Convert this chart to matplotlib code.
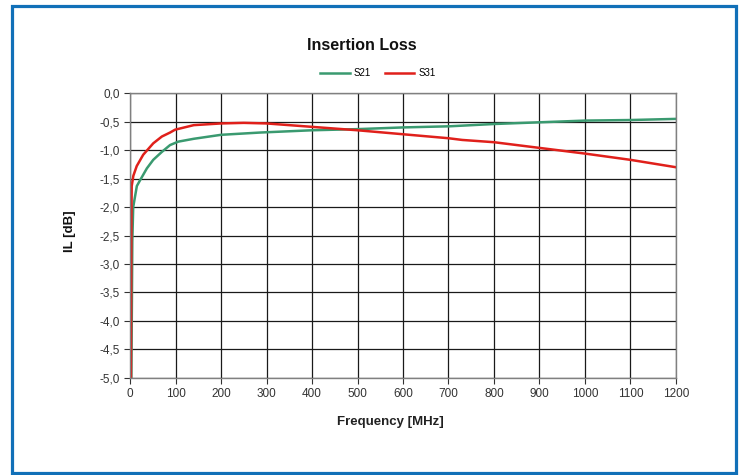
import matplotlib
matplotlib.use("Agg")
import matplotlib.pyplot as plt
from matplotlib.patches import Rectangle
from matplotlib.ticker import FuncFormatter

plt.rcParams['font.family'] = ['Liberation Sans', 'DejaVu Sans']

freq_s21 = [3, 5, 7, 15, 22, 37, 51, 70, 88, 106, 140, 200, 286, 400, 500, 600, 703, 800, 900, 1000, 1100, 1200]
il_s21 = [-5.0, -2.6, -2.0, -1.63, -1.53, -1.32, -1.17, -1.03, -0.91, -0.85, -0.80, -0.73, -0.69,
          -0.65, -0.63, -0.60, -0.58, -0.54, -0.51, -0.48, -0.47, -0.45]

freq_s31 = [2, 3, 3.7, 7.3, 14.7, 29, 40, 51, 70, 88, 99, 140, 200, 250, 300, 400, 500, 600, 700, 730,
            800, 900, 1000, 1100, 1200]
il_s31 = [-5.0, -2.2, -1.63, -1.45, -1.28, -1.08, -0.98, -0.88, -0.76, -0.69, -0.64, -0.56, -0.53,
          -0.52, -0.53, -0.59, -0.65, -0.72, -0.79, -0.82, -0.86, -0.96, -1.06, -1.17, -1.30]

x_ticks = list(range(0, 1201, 100))
y_ticks = [0.0, -0.5, -1.0, -1.5, -2.0, -2.5, -3.0, -3.5, -4.0, -4.5, -5.0]

fig = plt.figure(figsize=(7.43, 4.75), dpi=100)
W, H = 743, 475

# blauer Rahmen
fig.patches.append(Rectangle((12 / W, 1 - 473 / H), 724 / W, 467 / H, transform=fig.transFigure,
                             fill=False, edgecolor="#1170b8", linewidth=2.3))

ax = fig.add_axes([0.175, 0.2048, 0.7348, 0.5988])
ax.plot(freq_s21, il_s21, color="#3a9a70", lw=1.8, label="S21")
ax.plot(freq_s31, il_s31, color="#e0201b", lw=1.8, label="S31")

ax.set_xlim(0, 1200)
ax.set_ylim(-5.0, 0.0)
ax.set_xticks(x_ticks)
ax.set_yticks(y_ticks)
ax.yaxis.set_major_formatter(FuncFormatter(lambda v, p: ("%.1f" % v).replace(".", ",")))
ax.grid(True, color="#1a1a1a", lw=0.9)
ax.set_axisbelow(True)
for s in ax.spines.values():
    s.set_color("#808080")
    s.set_linewidth(1.0)
ax.tick_params(axis="both", labelsize=8.5, colors="#333333", length=4, width=0.8)

# Beschriftungen frei positioniert wie im Original
fig.text(362 / W, 1 - 46 / H, "Insertion Loss", ha="center", va="center",
         fontsize=11.5, fontweight="bold", color="#111111")
fig.text(390 / W, 1 - 422 / H, "Frequency [MHz]", ha="center", va="center",
         fontsize=9.5, fontweight="bold", color="#222222")
fig.text(70 / W, 1 - 231 / H, "IL [dB]", ha="center", va="center", rotation=90,
         fontsize=9.5, fontweight="bold", color="#111111")

fig.legend(loc="center", bbox_to_anchor=(378 / W, 1 - 73 / H), ncol=2, frameon=False,
           fontsize=7, handlelength=3.0, columnspacing=1.5, handletextpad=0.4)

fig.savefig("out.png", dpi=100)
